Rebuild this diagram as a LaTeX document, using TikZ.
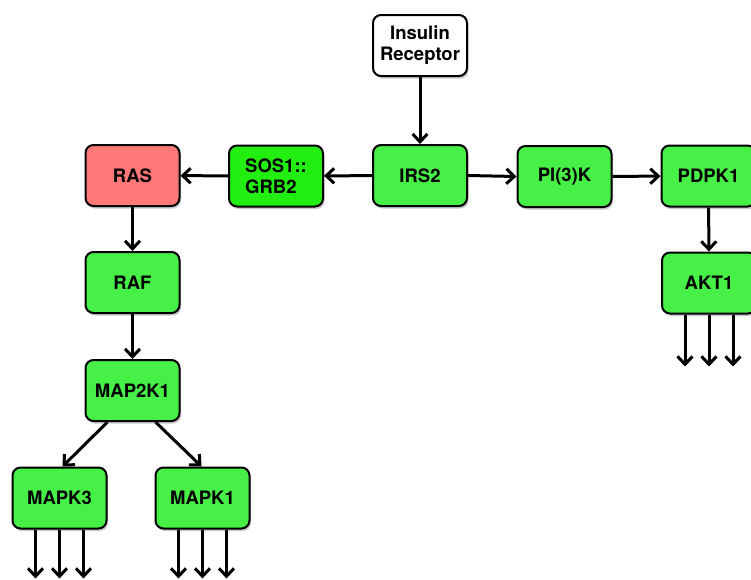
\documentclass[tikz,border=0pt]{standalone}
\usepackage{fontspec}
\setmainfont{TeX Gyre Heros}
\usetikzlibrary{shadows,arrows.meta}
\definecolor{gfill}{HTML}{46F046}
\definecolor{sosfill}{HTML}{22EE11}
\definecolor{rasfill}{HTML}{FF7878}
\tikzset{
  box/.style={draw=black, line width=2pt, rounded corners=8pt, minimum width=94pt, minimum height=61pt, inner sep=0pt, font=\fontsize{18.5}{21}\selectfont\bfseries, align=center, fill=gfill,
    drop shadow={shadow xshift=1.5pt, shadow yshift=-2.5pt, opacity=0.35, fill=black!60}},
  conn/.style={line width=3pt, -{Straight Barb[length=8pt,width=15pt,line width=3pt]}}
}
\begin{document}
\begin{tikzpicture}[x=1pt,y=-1pt]
\useasboundingbox[fill=white] (0,0) rectangle (751,579);
\node[box, fill=white] (ir) at (420,45.5) {Insulin\\Receptor};
\node[box] (irs) at (420,175.5) {IRS2};
\node[box, fill=sosfill, align=left] (sos) at (276,176) {SOS1::\\GRB2};
\node[box, fill=rasfill] (ras) at (132.5,175.5) {RAS};
\node[box] (pik) at (564.5,176.5) {PI(3)K};
\node[box] (pdpk) at (708.5,176) {PDPK1};
\node[box] (akt) at (709,283) {AKT1};
\node[box] (raf) at (132.5,282.5) {RAF};
\node[box] (mek) at (132.5,390.5) {MAP2K1};
\node[box] (mapk3) at (59.5,498) {MAPK3};
\node[box] (mapk1) at (202.5,498) {MAPK1};

\draw[conn] (ir) -- (irs);
\draw[conn] (irs) -- (sos);
\draw[conn] (sos) -- (ras);
\draw[conn] (irs.east) -- (pik.west);
\draw[conn] (pik) -- (pdpk);
\draw[conn] (pdpk) -- (akt);
\draw[conn] (ras) -- (raf);
\draw[conn] (raf) -- (mek);
\draw[conn] ([xshift=-25pt]mek.south) -- ([xshift=3pt]mapk3.north);
\draw[conn] ([xshift=23pt]mek.south) -- ([xshift=-1pt]mapk1.north);

\foreach \n/\d in {akt/52, mapk3/49, mapk1/49}{
  \foreach \dx in {-24,0,24}{
    \coordinate (\n e\dx) at ([xshift=\dx pt, yshift=-\d pt]\n.south);
    \draw[conn] ([xshift=\dx pt]\n.south) -- (\n e\dx);
  }
}
\end{tikzpicture}
\end{document}
